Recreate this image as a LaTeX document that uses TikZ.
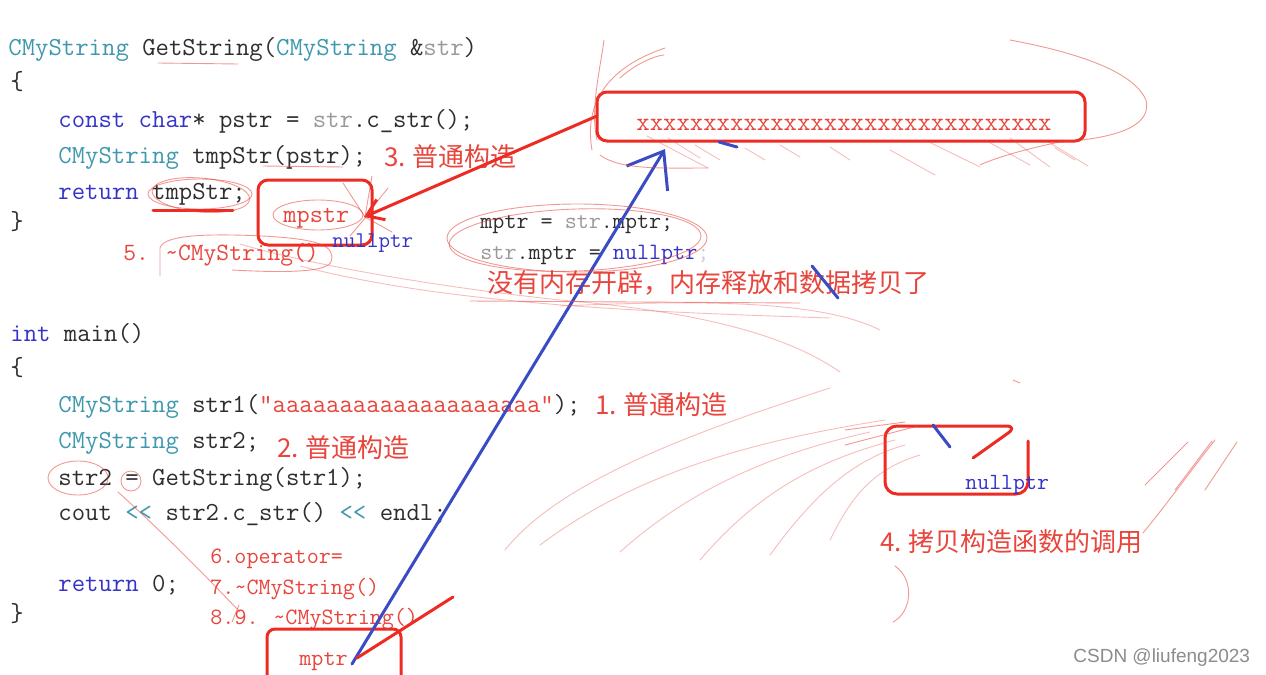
\documentclass[tikz,border=0pt]{standalone}
\usepackage{fontspec}
\newfontfamily\cjk{Noto Sans CJK SC}
\newfontfamily\wmfont{Liberation Sans}
\usetikzlibrary{arrows.meta}
\definecolor{kw}{HTML}{3434C8}
\definecolor{ty}{HTML}{3E98AE}
\definecolor{gr}{HTML}{9A9A9A}
\definecolor{tx}{HTML}{2E2E2E}
\definecolor{an}{HTML}{E8453C}
\definecolor{pen}{HTML}{EE2B22}
\definecolor{bpen}{HTML}{3A4CC4}
\definecolor{wm}{HTML}{8C8C8C}
\begin{document}
\begin{tikzpicture}[x=0.5pt,y=-0.5pt,
 code/.style={anchor=base west, inner sep=0pt, font=\fontsize{13}{15}\ttfamily, text=tx},
 ann/.style={anchor=base west, inner sep=0pt, font=\fontsize{11.7}{14}\ttfamily, text=an},
 note/.style={anchor=base west, inner sep=0pt, font=\fontsize{13}{15}\cjk, text=an},
 redbox/.style={draw=pen, line width=1.5pt, rounded corners=5pt, inner sep=0pt},
 redpen/.style={draw=pen, line width=1.5pt, line cap=round, line join=round},
 bluepen/.style={draw=bpen, line width=1.5pt, line cap=round},
 sketch/.style={draw=an, line width=0.45pt, opacity=0.55, line cap=round},
 faint/.style={draw=an, line width=0.45pt, opacity=0.35, line cap=round},
]
\useasboundingbox[fill=white] (0,0) rectangle (1266,675);

% ---------- code: GetString ----------
\node[code] (l1) at (8,55) {\textcolor{ty}{CMyString} GetString(\textcolor{ty}{CMyString} \&\textcolor{gr}{str})};
\node[code] (l2) at (10,89) {\{};
\node[code] (l3) at (58,127) {\textcolor{kw}{const} \textcolor{kw}{char}* pstr = \textcolor{gr}{str}.c\_str();};
\node[code] (l4) at (58,163) {\textcolor{ty}{CMyString} tmpStr(pstr);};
\node[code] (l5) at (58,199) {\textcolor{kw}{return} tmpStr;};
\node[code] (l6) at (10,229) {\}};

% ---------- code: main ----------
\node[code] (m1) at (10,341) {\textcolor{kw}{int} main()};
\node[code] (m2) at (10,375) {\{};
\node[code] (m3) at (58,412) {\textcolor{ty}{CMyString} str1(\textcolor{an}{"aaaaaaaaaaaaaaaaaaaa"});};
\node[code] (m4) at (58,448) {\textcolor{ty}{CMyString} str2;};
\node[code] (m5) at (58,485) {str2 = GetString(str1);};
\node[code] (m6) at (58,520) {cout \textcolor{ty}{<{}<} str2.c\_str() \textcolor{ty}{<{}<} endl;};
\node[code] (m7) at (58,591) {\textcolor{kw}{return} 0;};
\node[code] (m8) at (10,621) {\}};

% ---------- red notes ----------
\node[note] (n3) at (384,166) {3.\hspace{3pt}普通构造};
\node[note] (n1) at (595,414) {1.\hspace{3pt}普通构造};
\node[note] (n2) at (277,457) {2.\hspace{3pt}普通构造};
\node[note] (n4) at (880,551) {4.\hspace{3pt}拷贝构造函数的调用};
\node[note] (nno) at (487,292) {没有内存开辟，内存释放和数据拷贝了};
\node[ann, font=\fontsize{12.4}{14}\ttfamily] (n5a) at (123,260) {5.};
\node[ann, font=\fontsize{12.4}{14}\ttfamily] (n5b) at (165,260) {\textasciitilde CMyString()};
\node[ann] (n6) at (210,563) {6.operator=};
\node[ann] (n7) at (210,594) {7.\textasciitilde CMyString()};
\node[ann] (n8a) at (210,624) {8.9.};
\node[ann] (n8b) at (273,624) {\textasciitilde CMyString()};

% ---------- move code ----------
\node[code, font=\fontsize{11.7}{14}\ttfamily] (mv1) at (480,228) {mptr = \textcolor{gr}{str}.mptr;};
\node[code, font=\fontsize{11.7}{14}\ttfamily] (mv2) at (480,259) {\textcolor{gr}{str}.mptr = \textcolor{kw}{nullptr}\textcolor{gr!50}{;}};

% ---------- boxes ----------
\node[redbox, minimum width=57pt, minimum height=32.5pt] (mpbox) at (315,212.5) {};
\node[ann, font=\fontsize{12.8}{14}\ttfamily] (mpstr) at (283,222) {mpstr};
\node[ann, font=\fontsize{11.2}{14}\ttfamily, text=kw] (null1) at (332,247) {nullptr};

\node[redbox, minimum width=244pt, minimum height=24.5pt] (xbox) at (841,116.5) {};
\node[code, text=an] (xs) at (636,130) {xxxxxxxxxxxxxxxxxxxxxxxxxxxxxxx};

\draw[redpen, rounded corners=4pt] (267,676) -- (267,629) -- (401,629) -- (401,676);
\node[ann] (mptrb) at (299,665) {mptr};

\draw[redpen, rounded corners=6pt] (973,458) -- (1018,426) -- (885,426) -- (885,494) -- (1028,494) -- (1028,441);
\node[ann, font=\fontsize{11.6}{14}\ttfamily, text=kw] (null2) at (965,489) {nullptr};

% ---------- connectors ----------
\coordinate (rs) at (597,116);
\coordinate (rt) at (364,217);
\draw[redpen, -{Straight Barb[length=8pt,width=11pt]}] (rs) -- (rt);
\coordinate (bs) at (352,664);
\coordinate (bt) at (665,149);
\draw[bluepen, -{Straight Barb[length=16pt,width=24pt]}] (bs) -- (bt);
\coordinate (rl) at (453,597);
\draw[redpen] (357,658) -- (rl);

% small pen marks
\draw[bluepen] (719,142) -- (737,147);
\draw[bluepen] (812,266) -- (838,298);
\draw[bluepen] (933,425) -- (950,447);
\draw[redpen] (153,210) -- (233,210);

% ---------- thin sketch strokes ----------
\draw[sketch] (158,63) -- (238,64);
\draw[sketch] (263,166) -- (343,167);
\draw[sketch] (200,194) ellipse [x radius=52, y radius=15];
\draw[sketch, rotate around={-5:(200,194)}] (201,195) ellipse [x radius=49, y radius=17];
\draw[sketch] (318,215) ellipse [x radius=45, y radius=15];
\draw[sketch] (365,217) -- (343,183);
\draw[sketch] (365,217) -- (372,176);
\draw[sketch] (365,217) -- (388,188);
\draw[sketch] (365,217) -- (392,232);
\draw[sketch] (366,217) -- (350,236);
\draw[sketch] (160,276) -- (160,248) .. controls (163,236) and (200,233) .. (262,236) .. controls (320,239) and (336,246) .. (331,262) .. controls (325,274) and (270,272) .. (232,270);
\draw[faint] (240,244) .. controls (300,262) and (420,285) .. (560,300) .. controls (680,310) and (780,330) .. (840,372);
\draw[faint] (300,266) .. controls (450,305) and (650,312) .. (830,318);
\draw[sketch] (577,238) ellipse [x radius=130, y radius=34];
\draw[sketch, rotate around={2:(577,238)}] (575,240) ellipse [x radius=126, y radius=31];
\draw[sketch] (470,301) -- (800,303);
\draw[faint] (560,306) .. controls (700,300) and (820,300) .. (880,330);
% loop around big box
\draw[sketch] (592,150) .. controls (585,110) and (600,70) .. (665,48);
\draw[sketch] (604,40) .. controls (600,70) and (590,110) .. (597,140);
\draw[sketch] (620,78) .. controls (640,60) and (660,55) .. (664,55);
\draw[sketch] (600,155) .. controls (620,170) and (660,168) .. (708,168);
\draw[sketch] (1010,40) .. controls (1090,55) and (1135,75) .. (1146,100) .. controls (1152,125) and (1120,138) .. (1060,142) .. controls (1020,150) and (990,160) .. (980,165);
% hatching under the long box
\draw[faint] (647,136) -- (708,168);
\draw[faint] (668,138) -- (700,158);
\draw[faint] (695,145) -- (720,160);
\draw[faint] (745,148) -- (765,160);
\draw[faint] (780,145) -- (800,157);
\draw[faint] (830,147) -- (850,160);
\draw[faint] (890,150) -- (935,175);
\draw[faint] (925,140) -- (980,167);
\draw[faint] (985,140) -- (1030,165);
\draw[faint] (1010,138) -- (1050,167);
\draw[faint] (1045,140) -- (1088,166);
\draw[faint] (1055,148) -- (1075,160);
% str2 marks
\draw[sketch] (78,478) ellipse [x radius=30, y radius=17];
\draw[sketch] (131,481) circle [radius=10];
\draw[sketch] (118,492) .. controls (160,530) and (200,570) .. (240,612);
\draw[sketch] (232,622) -- (239,605);
% long strokes to the right
\draw[faint] (505,550) .. controls (560,480) and (700,430) .. (830,388);
\draw[faint] (540,545) .. controls (640,470) and (760,440) .. (885,420);
\draw[faint] (620,552) .. controls (700,480) and (790,450) .. (870,432);
\draw[faint] (700,560) .. controls (760,490) and (820,460) .. (895,440);
\draw[faint] (770,555) .. controls (810,500) and (850,460) .. (905,445);
\draw[faint] (830,540) .. controls (850,500) and (870,470) .. (920,455);
\draw[sketch] (845,430) -- (905,422);
\draw[sketch] (845,445) -- (918,426);
\draw[sketch] (1013,380) -- (1020,383);
\draw[sketch] (1145,485) -- (1188,442);
\draw[sketch] (1175,490) -- (1212,441);
\draw[sketch] (1205,490) -- (1237,442);
\draw[sketch] (1143,533) .. controls (1170,500) and (1195,465) .. (1215,440);
\draw[sketch] (895,566) .. controls (915,580) and (912,612) .. (893,622);

% watermark
\node[anchor=base west, inner sep=0pt, font=\fontsize{9.5}{11}\wmfont, text=wm] (wm) at (1073,662) {CSDN @liufeng2023};
\end{tikzpicture}
\end{document}
